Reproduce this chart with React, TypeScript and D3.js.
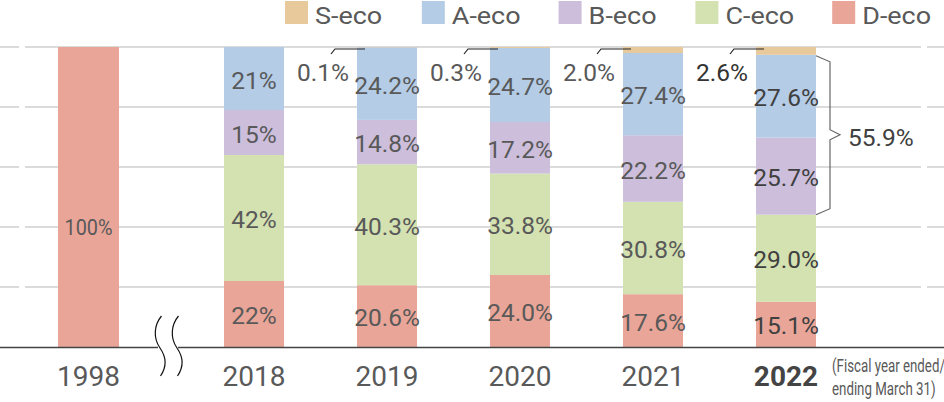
import React from "react";
import * as d3 from "d3";

const years = ["1998", "2018", "2019", "2020", "2021", "2022"];
const seriesKeys = ["D", "C", "B", "A", "S"];
const legendOrder = ["S", "A", "B", "C", "D"];
const legendLabels: Record<string, string> = { S: "S-eco", A: "A-eco", B: "B-eco", C: "C-eco", D: "D-eco" };
const colors: Record<string, string> = { S: "#e8c99c", A: "#b4cce6", B: "#cdbfdc", C: "#d4e1b1", D: "#e9a698" };

const dEco = [100, 22, 20.6, 24.0, 17.6, 15.1];
const cEco = [0, 42, 40.3, 33.8, 30.8, 29.0];
const bEco = [0, 15, 14.8, 17.2, 22.2, 25.7];
const aEco = [0, 21, 24.2, 24.7, 27.4, 27.6];
const sEco = [0, 0, 0.1, 0.3, 2.0, 2.6];

const dLabels = ["100%", "22%", "20.6%", "24.0%", "17.6%", "15.1%"];
const cLabels = ["", "42%", "40.3%", "33.8%", "30.8%", "29.0%"];
const bLabels = ["", "15%", "14.8%", "17.2%", "22.2%", "25.7%"];
const aLabels = ["", "21%", "24.2%", "24.7%", "27.4%", "27.6%"];
const sLabels = ["", "", "0.1%", "0.3%", "2.0%", "2.6%"];
const braceLabel = "55.9%";
const footnote = ["(Fiscal year ended/", "ending March 31)"];
const gridTicks = [0, 20, 40, 60, 80, 100];

const W = 944;
const H = 402;

export default function App() {
  const y = d3.scaleLinear().domain([0, 100]).range([347, 47]);
  const xBand = d3.scaleBand().domain(years.slice(1)).range([187.5, 852.5]).paddingInner(0.549).paddingOuter(0.2745);
  const bw = xBand.bandwidth();
  const xLeft = (yr: string) => (yr === "1998" ? 58 : (xBand(yr) as number));

  const rows = years.map((yr, i) => ({ year: yr, D: dEco[i], C: cEco[i], B: bEco[i], A: aEco[i], S: sEco[i] }));
  const stacked = d3.stack<any>().keys(seriesKeys)(rows);
  const labelMap: Record<string, string[]> = { D: dLabels, C: cLabels, B: bLabels, A: aLabels };

  const font = "Roboto, 'Noto Sans', sans-serif";
  const txt = "#595959";
  const dark = "#404040";
  const fw = 400;

  const iLast = years.length - 1;
  const aLayer = stacked[3][iLast];
  const bLayer = stacked[2][iLast];
  const bx0 = xLeft(years[iLast]) + bw;
  const yTop = y(aLayer[1]);
  const yBot = y(bLayer[0]);
  const yMid = (yTop + yBot) / 2;
  const bx1 = bx0 + 14;
  const tip = bx0 + 24;

  const breakPath = (dx: number) =>
    `M${161.5 + dx},316 C${154 + dx},325 ${153 + dx},338 ${160 + dx},348 C${167 + dx},358 ${166 + dx},368 ${160.5 + dx},376`;

  return (
    <svg width={W} height={H} style={{ position: "absolute", left: 0, top: 0, background: "#fff" }} fontFamily={font}>
      {/* grid */}
      {gridTicks.slice(1).map((t) => (
        <g key={t} stroke="#cfcfcf" strokeWidth={1.5}>
          <line x1={0} x2={19} y1={y(t)} y2={y(t)} />
          <line x1={25} x2={921} y1={y(t)} y2={y(t)} />
          <line x1={927} x2={W} y1={y(t)} y2={y(t)} />
        </g>
      ))}
      {/* bars */}
      {stacked.map((layer) =>
        layer.map((d, i) => {
          const h = y(d[0]) - y(d[1]);
          if (h <= 0) return null;
          return (
            <rect key={layer.key + i} x={xLeft(years[i])} width={i === 0 ? 61 : bw} y={y(d[1])} height={h} fill={colors[layer.key]} />
          );
        })
      )}
      {/* segment labels */}
      {stacked.slice(0, 4).map((layer) =>
        layer.map((d, i) => {
          const lab = labelMap[layer.key][i];
          if (!lab) return null;
          const cx = xLeft(years[i]) + (i === 0 ? 61 : bw) / 2;
          const cy = (y(d[0]) + y(d[1])) / 2 + 1.5;
          if (i === 0) {
            return (
              <text key={layer.key + i} x={cx - 24} y={y(40)} dominantBaseline="central" fontSize={22} fontWeight={fw} fill={txt} textLength={48} lengthAdjust="spacingAndGlyphs">
                {lab}
              </text>
            );
          }
          return (
            <text key={layer.key + i} x={cx} y={cy} textAnchor="middle" dominantBaseline="central" fontSize={24.5} fontWeight={fw} fill={i === iLast ? dark : txt}>
              {lab}
            </text>
          );
        })
      )}
      {/* S-eco callouts */}
      {sLabels.map((lab, i) => {
        if (!lab) return null;
        const left = xLeft(years[i]);
        const ly = y(100) + 2;
        return (
          <g key={"s" + i}>
            <path d={`M${left - 26},${ly + 5} L${left - 22},${ly} L${left + 8},${ly}`} fill="none" stroke="#222" strokeWidth={1.2} />
            <text x={left - 8} y={72} textAnchor="end" dominantBaseline="central" fontSize={24.5} fontWeight={fw} fill={i === iLast ? "#333" : txt}>
              {lab}
            </text>
          </g>
        );
      })}
      {/* brace */}
      <path
        d={`M${bx0},${yTop + 1} L${bx1},${yTop + 7} L${bx1},${yMid - 5} L${tip},${yMid} L${bx1},${yMid + 5} L${bx1},${yBot - 6} L${bx0},${yBot}`}
        fill="none"
        stroke="#666"
        strokeWidth={1.2}
      />
      <text x={tip + 8} y={yMid + 3} dominantBaseline="central" fontSize={24.5} fontWeight={fw} fill={dark}>
        {braceLabel}
      </text>
      {/* axis */}
      <line x1={0} x2={158} y1={347.5} y2={347.5} stroke="#444" strokeWidth={1.5} />
      <line x1={178} x2={W} y1={347.5} y2={347.5} stroke="#444" strokeWidth={1.5} />
      <path d={breakPath(0)} fill="none" stroke="#111" strokeWidth={1.2} />
      <path d={breakPath(17)} fill="none" stroke="#111" strokeWidth={1.2} />
      {/* year labels */}
      {years.map((yr, i) => (
        <text
          key={yr}
          x={xLeft(yr) + (i === 0 ? 61 : bw) / 2}
          y={376}
          textAnchor="middle"
          dominantBaseline="central"
          fontSize={28}
          fontWeight={i === iLast ? 700 : fw}
          fill={i === iLast ? "#444" : txt}
        >
          {yr}
        </text>
      ))}
      {footnote.map((line, i) => (
        <text
          key={line}
          transform={`translate(832,${366 + i * 23}) scale(0.76,1)`}
          dominantBaseline="central"
          fontSize={17.5}
          fontWeight={fw}
          fill={txt}
        >
          {line}
        </text>
      ))}
      {/* legend */}
      {legendOrder.map((k, i) => (
        <g key={k} transform={`translate(${285 + i * 136.8},1)`}>
          <rect x={0} y={0} width={23} height={23} fill={colors[k]} />
          <text transform="translate(30,22.5) scale(1.1,1)" fontSize={24.5} fontWeight={fw} fill={txt}>
            {legendLabels[k]}
          </text>
        </g>
      ))}
    </svg>
  );
}
